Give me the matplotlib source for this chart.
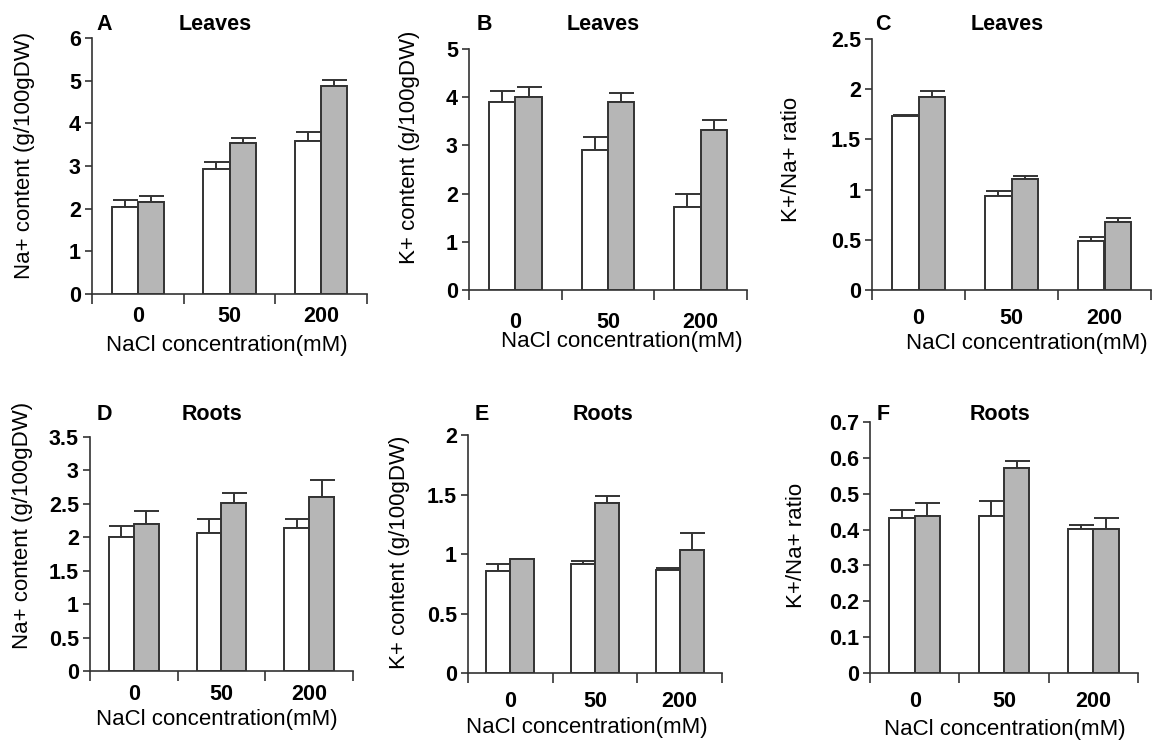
import numpy as np
import matplotlib
matplotlib.use('Agg')
import matplotlib.pyplot as plt
from matplotlib import font_manager

W, H = 1156, 743

conc = ['0', '50', '200']

# leaves
leaf_na_ctrl = [2.05, 2.93, 3.59]
leaf_na_ctrl_err = [0.16, 0.16, 0.21]
leaf_na_tr = [2.16, 3.54, 4.88]
leaf_na_tr_err = [0.14, 0.11, 0.14]

leaf_k_ctrl = [3.90, 2.90, 1.72]
leaf_k_ctrl_err = [0.23, 0.27, 0.27]
leaf_k_tr = [4.00, 3.90, 3.31]
leaf_k_tr_err = [0.22, 0.19, 0.22]

leaf_ratio_ctrl = [1.73, 0.94, 0.485]
leaf_ratio_ctrl_err = [0.01, 0.045, 0.04]
leaf_ratio_tr = [1.92, 1.11, 0.68]
leaf_ratio_tr_err = [0.06, 0.03, 0.04]

# roots
root_na_ctrl = [2.00, 2.07, 2.14]
root_na_ctrl_err = [0.17, 0.20, 0.13]
root_na_tr = [2.20, 2.52, 2.60]
root_na_tr_err = [0.20, 0.14, 0.25]

root_k_ctrl = [0.86, 0.92, 0.864]
root_k_ctrl_err = [0.06, 0.02, 0.02]
root_k_tr = [0.957, 1.43, 1.03]
root_k_tr_err = [0.0, 0.055, 0.145]

root_ratio_ctrl = [0.431, 0.438, 0.402]
root_ratio_ctrl_err = [0.024, 0.042, 0.011]
root_ratio_tr = [0.438, 0.571, 0.402]
root_ratio_tr_err = [0.037, 0.019, 0.029]

na_label = 'Na+ content (g/100gDW)'
k_label = 'K+ content (g/100gDW)'
ratio_label = 'K+/Na+ ratio'
x_label = 'NaCl concentration(mM)'

EDGE = '#333333'
GRAY = '#b6b6b6'


def pick_font():
    names = {f.name for f in font_manager.fontManager.ttflist}
    for n in ['Liberation Sans Narrow', 'Liberation Sans', 'DejaVu Sans']:
        if n in names:
            return n
    return 'DejaVu Sans'


def fx(px):
    return px / W


def fy(py):
    return 1 - py / H


def panel(fig, box, ctrl, ctrl_err, tr, tr_err, ymax, ystep, ylabel,
          letter, title, lay):
    left, top, right, bottom = box
    ax = fig.add_axes([fx(left), fy(bottom), fx(right - left),
                       fy(top) - fy(bottom)])
    x = np.arange(len(conc))
    w = 0.285
    ax.bar(x - w / 2, ctrl, w, color='white', edgecolor=EDGE,
           linewidth=1.4, zorder=3)
    ax.bar(x + w / 2, tr, w, color=GRAY, edgecolor=EDGE,
           linewidth=1.4, zorder=3)
    zeros = [0] * len(conc)
    ax.errorbar(x - w / 2, ctrl, yerr=[zeros, ctrl_err], fmt='none',
                ecolor=EDGE, elinewidth=1.4, capsize=9, capthick=1.4,
                zorder=2)
    ax.errorbar(x + w / 2, tr, yerr=[zeros, tr_err], fmt='none',
                ecolor=EDGE, elinewidth=1.4, capsize=9, capthick=1.4,
                zorder=2)

    ax.set_xlim(-0.5, 2.5)
    ax.set_ylim(0, ymax)
    ticks = np.arange(0, ymax + ystep / 2, ystep)
    ax.set_yticks(ticks)
    ax.set_yticklabels(['%g' % round(t, 2) for t in ticks],
                       fontweight='bold', fontsize=15.5,
                       family=lay['tickfont'])
    ax.set_xticks([-0.5, 0.5, 1.5, 2.5])
    ax.set_xticklabels([])
    ax.set_xticks(x, minor=True)
    ax.set_xticklabels(conc, minor=True, fontweight='bold',
                       fontsize=15.5, family=lay['tickfont'])
    ax.tick_params(axis='x', which='major', length=7, width=1.2,
                   color=EDGE, direction='out')
    ax.tick_params(axis='x', which='minor', length=0, pad=lay['xpad'])
    ax.tick_params(axis='y', length=5, width=1.2, color=EDGE, pad=3)
    for s in ['top', 'right']:
        ax.spines[s].set_visible(False)
    for s in ['left', 'bottom']:
        ax.spines[s].set_color(EDGE)
        ax.spines[s].set_linewidth(1.2)

    ax.set_ylabel(ylabel, fontsize=16, va='center')
    ax.yaxis.set_label_coords(fx(lay['ylx']), fy(lay['yly']),
                              transform=fig.transFigure)
    ax.set_xlabel(x_label, fontsize=16, va='center')
    ax.xaxis.set_label_coords(fx(lay['xlx']), fy(lay['xly']),
                              transform=fig.transFigure)

    fig.text(fx(lay['letx']), fy(lay['ty']), letter, fontsize=15.5,
             fontweight='bold', ha='center', va='center')
    fig.text(fx(lay['tx']), fy(lay['ty']), title, fontsize=15.5,
             fontweight='bold', ha='center', va='center')
    return ax


def main():
    plt.rcParams['font.family'] = ['Liberation Sans', 'DejaVu Sans']
    tickfont = pick_font()
    fig = plt.figure(figsize=(W / 100, H / 100), dpi=100)

    panel(fig, (92, 38, 367, 294), leaf_na_ctrl, leaf_na_ctrl_err,
          leaf_na_tr, leaf_na_tr_err, 6, 1, na_label, 'A', 'Leaves',
          dict(tickfont=tickfont, xpad=9, ylx=25, yly=155, xlx=227,
               xly=345, letx=104, tx=215, ty=25))
    panel(fig, (469, 49, 747, 290), leaf_k_ctrl, leaf_k_ctrl_err,
          leaf_k_tr, leaf_k_tr_err, 5, 1, k_label, 'B', 'Leaves',
          dict(tickfont=tickfont, xpad=15.5, ylx=410, yly=147, xlx=622,
               xly=342, letx=484, tx=603, ty=25))
    panel(fig, (872, 39, 1151, 290), leaf_ratio_ctrl, leaf_ratio_ctrl_err,
          leaf_ratio_tr, leaf_ratio_tr_err, 2.5, 0.5, ratio_label, 'C',
          'Leaves',
          dict(tickfont=tickfont, xpad=13, ylx=792, yly=159, xlx=1027,
               xly=343, letx=883, tx=1007, ty=25))
    panel(fig, (90, 437, 353, 671), root_na_ctrl, root_na_ctrl_err,
          root_na_tr, root_na_tr_err, 3.5, 0.5, na_label, 'D', 'Roots',
          dict(tickfont=tickfont, xpad=9, ylx=23, yly=525, xlx=217,
               xly=720, letx=104, tx=212, ty=415))
    panel(fig, (468, 435, 722, 673), root_k_ctrl, root_k_ctrl_err,
          root_k_tr, root_k_tr_err, 2, 0.5, k_label, 'E', 'Roots',
          dict(tickfont=tickfont, xpad=13, ylx=400, yly=552, xlx=587,
               xly=728, letx=482, tx=603, ty=415))
    panel(fig, (870, 422, 1138, 673), root_ratio_ctrl, root_ratio_ctrl_err,
          root_ratio_tr, root_ratio_tr_err, 0.7, 0.1, ratio_label, 'F',
          'Roots',
          dict(tickfont=tickfont, xpad=13, ylx=797, yly=545, xlx=1005,
               xly=730, letx=883, tx=1000, ty=415))

    fig.savefig('out.png', dpi=100)


if __name__ == '__main__':
    main()
